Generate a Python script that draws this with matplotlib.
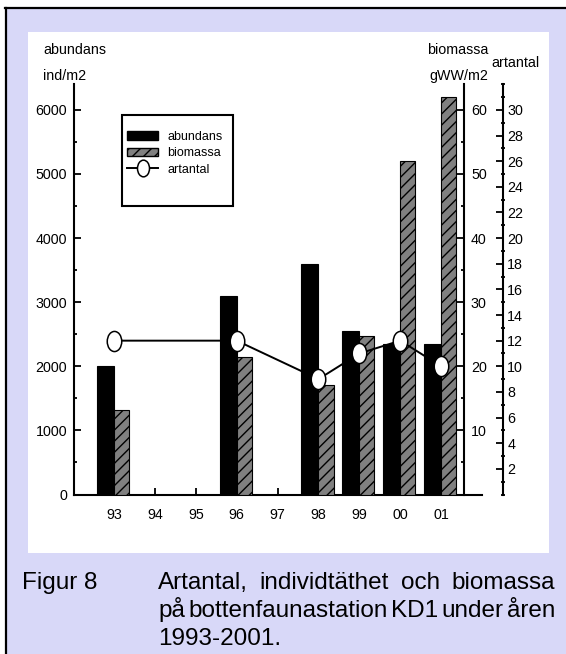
import numpy as np
import matplotlib
matplotlib.use('Agg')
import matplotlib.pyplot as plt
from matplotlib.path import Path
from matplotlib.patches import Rectangle, Patch
from matplotlib.lines import Line2D
from matplotlib.ticker import MultipleLocator, FixedLocator
from matplotlib.font_manager import FontProperties

# ---------------- data ----------------
years = ['93', '94', '95', '96', '97', '98', '99', '00', '01']
abundans = [2000, np.nan, np.nan, 3100, np.nan, 3600, 2550, 2350, 2350]      # ind/m2
biomassa = [13.2, np.nan, np.nan, 21.4, np.nan, 17.1, 24.8, 52.0, 62.0]      # gWW/m2
artantal = [12, np.nan, np.nan, 12, np.nan, 9, 11, 12, 10]

abund_ticks = [0, 1000, 2000, 3000, 4000, 5000, 6000]
bio_ticks = [10, 20, 30, 40, 50, 60]
art_ticks = [2, 4, 6, 8, 10, 12, 14, 16, 18, 20, 22, 24, 26, 28, 30]

caption_head = 'Figur 8'
caption_lines = [['Artantal,', 'individtäthet', 'och', 'biomassa'],
                 ['på', 'bottenfaunastation', 'KD1', 'under', 'åren'],
                 ['1993-2001.']]

# ---------------- layout helpers ----------------
W, H = 566, 654
fig = plt.figure(figsize=(W / 100, H / 100), dpi=100, facecolor='white')


def fx(x):
    return x / W


def fy(y):
    return 1 - y / H


fam = ['Liberation Sans Narrow', 'Liberation Sans', 'DejaVu Sans']
fp_tick = FontProperties(family=fam, size=10.3)
fp_leg = FontProperties(family=fam, size=9)
fp_cap = FontProperties(family=['Liberation Sans', 'DejaVu Sans'], size=17.5)

lavender = '#d8d8f8'
# background page
fig.patches.append(Rectangle((fx(6), 0), 1 - fx(6), fy(8), transform=fig.transFigure,
                             facecolor=lavender, edgecolor='none', zorder=-3))
fig.patches.append(Rectangle((fx(28), fy(553)), fx(549) - fx(28), fy(32) - fy(553),
                             transform=fig.transFigure, facecolor='white',
                             edgecolor='none', zorder=-2))
fig.add_artist(Line2D([fx(5), 1], [fy(8), fy(8)], transform=fig.transFigure,
                      color='black', lw=1.6))
fig.add_artist(Line2D([fx(6), fx(6)], [fy(8), 0], transform=fig.transFigure,
                      color='black', lw=1.6))

# ---------------- axes ----------------
x0, x1 = 74, 482
ytop, ybot = 84, 494.5
ax = fig.add_axes([fx(x0), fy(ybot), (x1 - x0) / W, (ybot - ytop) / H])
ax.set_facecolor('none')
xs = np.arange(len(years))

ax.set_xlim(-0.98, 9.0)
ax.set_ylim(0, 6404)
for s in ['top', 'right']:
    ax.spines[s].set_visible(False)
for s in ['left', 'bottom']:
    ax.spines[s].set_linewidth(1.5)

idx_a = [i for i, v in enumerate(abundans) if not np.isnan(v)]
ax.bar([xs[i] for i in idx_a], [abundans[i] for i in idx_a], width=-0.42, align='edge',
       color='black', edgecolor='black', linewidth=0.8)

ax.set_xticks(xs)
ax.set_xticklabels(years, fontproperties=fp_tick)
ax.tick_params(axis='x', direction='in', length=5, width=1.3, pad=10)
ax.yaxis.set_major_locator(FixedLocator(abund_ticks))
ax.yaxis.set_minor_locator(MultipleLocator(500))
ax.set_yticklabels([str(t) for t in abund_ticks], fontproperties=fp_tick)
ax.tick_params(axis='y', which='major', direction='in', length=5, width=1.3, pad=5)
ax.tick_params(axis='y', which='minor', direction='in', length=2.5, width=1.3)

# biomass axis
ax2 = ax.twinx()
ax2.set_facecolor('none')
ax2.set_ylim(0, 64.04)
for s in ['top', 'left', 'bottom']:
    ax2.spines[s].set_visible(False)
ax2.spines['right'].set_position(('axes', (464 - x0) / (x1 - x0)))
ax2.spines['right'].set_linewidth(1.5)
idx_b = [i for i, v in enumerate(biomassa) if not np.isnan(v)]
ax2.bar([xs[i] for i in idx_b], [biomassa[i] for i in idx_b], width=0.37, align='edge',
        color='#808080', edgecolor='black', hatch='///', linewidth=0.8)
ax2.yaxis.set_major_locator(FixedLocator(bio_ticks))
ax2.yaxis.set_minor_locator(MultipleLocator(5))
ax2.set_yticklabels([str(t) for t in bio_ticks], fontproperties=fp_tick)
ax2.tick_params(axis='y', which='major', direction='in', length=5, width=1.3, pad=5)
ax2.tick_params(axis='y', which='minor', direction='in', length=2.5, width=1.3)

# artantal axis
ax3 = ax.twinx()
ax3.set_facecolor('none')
ax3.set_ylim(0, 32.02)
for s in ['top', 'left', 'bottom']:
    ax3.spines[s].set_visible(False)
ax3.spines['right'].set_position(('axes', (503 - x0) / (x1 - x0)))
ax3.spines['right'].set_linewidth(1.5)
ax3.yaxis.set_major_locator(FixedLocator(art_ticks))
ax3.yaxis.set_minor_locator(MultipleLocator(1))
ax3.set_yticklabels([str(t) for t in art_ticks], fontproperties=fp_tick)
ax3.tick_params(axis='y', which='major', direction='in', length=5, width=1.3, pad=3)
ax3.tick_params(axis='y', which='minor', direction='inout', length=3, width=1.3)

circ = Path.unit_circle()
ell = Path(circ.vertices * np.array([0.72, 1.0]), circ.codes)
idx_s = [i for i, v in enumerate(artantal) if not np.isnan(v)]
ax3.plot([xs[i] for i in idx_s], [artantal[i] for i in idx_s], color='black', lw=1.4,
         marker=ell, markersize=14.5, markerfacecolor='white', markeredgecolor='black',
         markeredgewidth=1.1, zorder=5)

# axis titles
fig.text(fx(43), fy(50), 'abundans', fontproperties=fp_tick, ha='left', va='center')
fig.text(fx(43), fy(76), 'ind/m2', fontproperties=fp_tick, ha='left', va='center')
fig.text(fx(488), fy(50), 'biomassa', fontproperties=fp_tick, ha='right', va='center')
fig.text(fx(488), fy(76), 'gWW/m2', fontproperties=fp_tick, ha='right', va='center')
fig.text(fx(491), fy(63), 'artantal', fontproperties=fp_tick, ha='left', va='center')

# legend
handles = [Patch(facecolor='black', edgecolor='black'),
           Patch(facecolor='#808080', edgecolor='black', hatch='///'),
           Line2D([], [], color='black', lw=1.4, marker=ell, markersize=12,
                  markerfacecolor='white', markeredgecolor='black', markeredgewidth=1.1)]
fig.legend(handles, ['abundans', 'biomassa', 'artantal'], loc='upper left',
           bbox_to_anchor=(fx(127), fy(131)), frameon=False, prop=fp_leg,
           handlelength=2.5, handleheight=0.65, handletextpad=0.75, labelspacing=0.35,
           borderpad=0, borderaxespad=0)
fig.patches.append(Rectangle((fx(122), fy(206)), fx(233) - fx(122), fy(115) - fy(206),
                             transform=fig.transFigure, fill=False, edgecolor='black',
                             linewidth=1.5, zorder=3))

# caption
renderer = fig.canvas.get_renderer()
fig.text(fx(22), fy(589), caption_head, fontproperties=fp_cap, ha='left', va='baseline')


def justify(words, xa, xb, ybase):
    ts = [fig.text(0, fy(ybase), w, fontproperties=fp_cap, ha='left', va='baseline')
          for w in words]
    if len(words) == 1:
        ts[0].set_x(fx(xa))
        return
    widths = [t.get_window_extent(renderer).width for t in ts]
    gap = ((xb - xa) - sum(widths)) / (len(words) - 1)
    x = xa
    for t, w in zip(ts, widths):
        t.set_x(fx(x))
        x += w + gap


justify(caption_lines[0], 158, 555, 589)
justify(caption_lines[1], 158, 555, 617)
justify(caption_lines[2], 158, 555, 645)

fig.savefig('out.png', dpi=100, facecolor='white')
